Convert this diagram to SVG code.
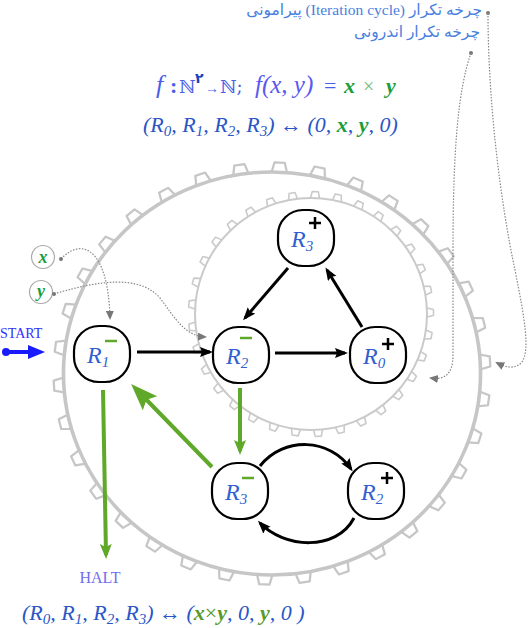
<svg xmlns="http://www.w3.org/2000/svg" xmlns:xlink="http://www.w3.org/1999/xlink" width="528" height="628" viewBox="0 0 528 628">
<style>
.gearO{fill:none;stroke:#c6c6c6;stroke-width:3.5}
.toothO{fill:none;stroke:#c6c6c6;stroke-width:2.2;stroke-linejoin:round}
.gearI{fill:none;stroke:#cacaca;stroke-width:2}
.toothI{fill:none;stroke:#cacaca;stroke-width:1.6;stroke-linejoin:round}
.node{fill:#fff;stroke:#000;stroke-width:2.2}
.lbl{font-family:"Liberation Serif",serif;font-style:italic;font-size:24px;fill:#2f5fd0}
.sub{font-size:15px}
.minus{stroke:#5fa82a;stroke-width:2.5}
.plus{stroke:#000;stroke-width:2.5;fill:none}
.blk{fill:none;stroke:#000;stroke-width:3}
.grn{fill:none;stroke:#5fa82a;stroke-width:4}
.dot{fill:none;stroke:#888;stroke-width:1.2;stroke-dasharray:1.5 1.5}
.math{font-family:"Liberation Serif","DejaVu Serif",serif;font-size:22px;fill:#2a56c6}
.it{font-style:italic}
.gx{fill:#1a9e3a;font-weight:bold;font-style:italic}
.fa{font-family:"Liberation Serif","DejaVu Sans",sans-serif;font-size:15.5px;fill:#4a7fe0}
</style>
<defs>
<path id="tO" class="toothO" d="M-7.5,-201 L-5,-211 L5,-211 L7.5,-201"/>
<path id="tI" class="toothI" d="M-4.5,-116 L-3,-122.5 L3,-122.5 L4.5,-116"/>
<marker id="aB" markerUnits="userSpaceOnUse" markerWidth="14" markerHeight="12" refX="10" refY="5" orient="auto"><path d="M0,0 L13,5 L0,10 L2,5 z" fill="#000"/></marker>
<marker id="aG" markerUnits="userSpaceOnUse" markerWidth="16" markerHeight="14" refX="11" refY="6" orient="auto"><path d="M0,0 L15,6 L0,12 L3,6 z" fill="#5fa82a"/></marker>
<marker id="aGB" markerUnits="userSpaceOnUse" markerWidth="28" markerHeight="22" refX="20" refY="10" orient="auto"><path d="M0,0 L27,10 L0,20 L5,10 z" fill="#5fa82a"/></marker>
<marker id="aD" markerUnits="userSpaceOnUse" markerWidth="10" markerHeight="10" refX="7" refY="4" orient="auto"><path d="M0,0 L9,4 L0,8 z" fill="#777"/></marker>
<marker id="aS" markerUnits="userSpaceOnUse" markerWidth="18" markerHeight="16" refX="10" refY="7" orient="auto"><path d="M0,0 L17,7 L0,14 z" fill="#1a1aff"/></marker>
</defs>

<g id="outer-gear" transform="translate(272,373.5) scale(1.035,1)">
<circle class="gearO" r="201.5"/>
<use xlink:href="#tO" transform="rotate(2)"/><use xlink:href="#tO" transform="rotate(12.59)"/><use xlink:href="#tO" transform="rotate(23.18)"/><use xlink:href="#tO" transform="rotate(33.76)"/><use xlink:href="#tO" transform="rotate(44.35)"/><use xlink:href="#tO" transform="rotate(54.94)"/><use xlink:href="#tO" transform="rotate(65.53)"/><use xlink:href="#tO" transform="rotate(76.12)"/><use xlink:href="#tO" transform="rotate(86.71)"/><use xlink:href="#tO" transform="rotate(97.29)"/><use xlink:href="#tO" transform="rotate(107.88)"/><use xlink:href="#tO" transform="rotate(118.47)"/><use xlink:href="#tO" transform="rotate(129.06)"/><use xlink:href="#tO" transform="rotate(139.65)"/><use xlink:href="#tO" transform="rotate(150.24)"/><use xlink:href="#tO" transform="rotate(160.82)"/><use xlink:href="#tO" transform="rotate(171.41)"/><use xlink:href="#tO" transform="rotate(182)"/><use xlink:href="#tO" transform="rotate(192.59)"/><use xlink:href="#tO" transform="rotate(203.18)"/><use xlink:href="#tO" transform="rotate(213.76)"/><use xlink:href="#tO" transform="rotate(224.35)"/><use xlink:href="#tO" transform="rotate(234.94)"/><use xlink:href="#tO" transform="rotate(245.53)"/><use xlink:href="#tO" transform="rotate(256.12)"/><use xlink:href="#tO" transform="rotate(266.71)"/><use xlink:href="#tO" transform="rotate(277.29)"/><use xlink:href="#tO" transform="rotate(287.88)"/><use xlink:href="#tO" transform="rotate(298.47)"/><use xlink:href="#tO" transform="rotate(309.06)"/><use xlink:href="#tO" transform="rotate(319.65)"/><use xlink:href="#tO" transform="rotate(330.24)"/><use xlink:href="#tO" transform="rotate(340.82)"/><use xlink:href="#tO" transform="rotate(351.41)"/>
</g>

<g id="inner-gear" transform="translate(311,314)">
<circle class="gearI" r="116"/>
<use xlink:href="#tI" transform="rotate(2)"/><use xlink:href="#tI" transform="rotate(12.91)"/><use xlink:href="#tI" transform="rotate(23.82)"/><use xlink:href="#tI" transform="rotate(34.73)"/><use xlink:href="#tI" transform="rotate(45.64)"/><use xlink:href="#tI" transform="rotate(56.55)"/><use xlink:href="#tI" transform="rotate(67.45)"/><use xlink:href="#tI" transform="rotate(78.36)"/><use xlink:href="#tI" transform="rotate(89.27)"/><use xlink:href="#tI" transform="rotate(100.18)"/><use xlink:href="#tI" transform="rotate(111.09)"/><use xlink:href="#tI" transform="rotate(122)"/><use xlink:href="#tI" transform="rotate(132.91)"/><use xlink:href="#tI" transform="rotate(143.82)"/><use xlink:href="#tI" transform="rotate(154.73)"/><use xlink:href="#tI" transform="rotate(165.64)"/><use xlink:href="#tI" transform="rotate(176.55)"/><use xlink:href="#tI" transform="rotate(187.45)"/><use xlink:href="#tI" transform="rotate(198.36)"/><use xlink:href="#tI" transform="rotate(209.27)"/><use xlink:href="#tI" transform="rotate(220.18)"/><use xlink:href="#tI" transform="rotate(231.09)"/><use xlink:href="#tI" transform="rotate(242)"/><use xlink:href="#tI" transform="rotate(252.91)"/><use xlink:href="#tI" transform="rotate(263.82)"/><use xlink:href="#tI" transform="rotate(274.73)"/><use xlink:href="#tI" transform="rotate(285.64)"/><use xlink:href="#tI" transform="rotate(296.55)"/><use xlink:href="#tI" transform="rotate(307.45)"/><use xlink:href="#tI" transform="rotate(318.36)"/><use xlink:href="#tI" transform="rotate(329.27)"/><use xlink:href="#tI" transform="rotate(340.18)"/><use xlink:href="#tI" transform="rotate(351.09)"/>
</g>

<g id="titles">
<text class="fa" x="482" y="15" direction="rtl" text-anchor="start">چرخه تکرار (Iteration cycle) پیرامونی</text>
<text class="fa" x="480" y="37" direction="rtl" text-anchor="start">چرخه تکرار اندرونی</text>
<circle cx="488" cy="13" r="2" fill="#777"/>
<circle cx="471" cy="53" r="2" fill="#777"/>
<text class="math" y="93"><tspan class="it" x="156" font-size="26" fill="#4a5ee8">f</tspan><tspan x="170" font-weight="bold" fill="#4a5ee8">:</tspan><tspan x="179" font-size="18" fill="#4a5ee8" font-family="DejaVu Serif,serif">ℕ</tspan><tspan x="195" y="83" font-size="14" font-weight="bold" fill="#1a3fc0" font-family="DejaVu Sans,sans-serif">۲</tspan><tspan x="205" y="93" font-size="14" fill="#4a5ee8">→</tspan><tspan x="220" font-size="18" fill="#4a5ee8" font-family="DejaVu Serif,serif">ℕ;</tspan><tspan class="it" x="255" font-size="25" fill="#5a5af0">f(x, y)</tspan><tspan x="324" fill="#4a5ee8">=</tspan><tspan class="gx" x="344">x</tspan><tspan x="363" fill="#77bb77" font-size="20">×</tspan><tspan class="gx" x="386">y</tspan></text>
<text class="math it" x="143" y="132">(R<tspan class="sub" dy="4">0</tspan><tspan dy="-4">, R</tspan><tspan class="sub" dy="4">1</tspan><tspan dy="-4">, R</tspan><tspan class="sub" dy="4">2</tspan><tspan dy="-4">, R</tspan><tspan class="sub" dy="4">3</tspan><tspan dy="-4">) </tspan><tspan font-style="normal">↔</tspan> (0, <tspan class="gx">x</tspan>, <tspan class="gx">y</tspan>, 0)</text>
<text class="math it" x="22" y="620">(R<tspan class="sub" dy="4">0</tspan><tspan dy="-4">, R</tspan><tspan class="sub" dy="4">1</tspan><tspan dy="-4">, R</tspan><tspan class="sub" dy="4">2</tspan><tspan dy="-4">, R</tspan><tspan class="sub" dy="4">3</tspan><tspan dy="-4">) </tspan><tspan font-style="normal">↔</tspan> (<tspan fill="#5a9a2a" font-weight="bold">x</tspan><tspan fill="#5a9a2a" font-style="normal">×</tspan><tspan fill="#5a9a2a" font-weight="bold">y</tspan>, 0, <tspan fill="#5a9a2a" font-weight="bold">y</tspan>, 0 )</text>
</g>

<g id="connectors">
<path class="dot" d="M488,13 C488,100 500,200 515,270 C525,320 530,350 522,362 C515,370 505,367 497,363" marker-end="url(#aD)"/>
<path class="dot" d="M471,53 C458,90 453,150 453,250 L453,355 C453,375 444,380 431,378" marker-end="url(#aD)"/>
<path class="dot" d="M61,259 C80,238 108,245 110,318" marker-end="url(#aD)"/>
<path class="dot" d="M54,294 C100,280 140,275 160,298 C175,318 185,336 205,337" marker-end="url(#aD)"/>
<path d="M6,352 L38,352" stroke="#1a1aff" stroke-width="4" marker-end="url(#aS)"/>
<circle cx="6" cy="352" r="4" fill="#1a1aff"/>
<path class="blk" d="M137,352 L210,352" marker-end="url(#aB)"/>
<path class="blk" d="M275,353 L345,353" marker-end="url(#aB)"/>
<path class="blk" d="M362,327 L327,270" marker-end="url(#aB)"/>
<path class="blk" d="M288,268 L245,318" marker-end="url(#aB)"/>
<path class="blk" d="M260,466 C284,436 330,438 351,469" marker-end="url(#aB)"/>
<path class="blk" d="M354,518 C336,552 284,548 260,523" marker-end="url(#aB)"/>
<path class="grn" d="M240,388 L240,451" marker-end="url(#aG)"/>
<path class="grn" d="M212,467 L136,389" marker-end="url(#aGB)"/>
<path class="grn" d="M103,390 L106,555" marker-end="url(#aG)"/>
</g>

<g id="inputs">
<g id="in-x"><circle cx="43" cy="257" r="11.5" fill="#fff" stroke="#aaa" stroke-width="1.2"/><text x="43" y="263" text-anchor="middle" font-family="Liberation Serif,serif" font-size="18" class="gx">x</text><circle cx="61" cy="259" r="2" fill="#777"/></g>
<g id="in-y"><circle cx="41" cy="292" r="11.5" fill="#fff" stroke="#aaa" stroke-width="1.2"/><text x="41" y="297" text-anchor="middle" font-family="Liberation Serif,serif" font-size="18" class="gx">y</text><circle cx="54" cy="294" r="2" fill="#777"/></g>
</g>

<g id="start"><text x="0" y="338" font-family="Liberation Serif,serif" font-size="14" fill="#3030ff">START</text></g>
<g id="halt"><text x="100" y="583" text-anchor="middle" font-family="Liberation Serif,serif" font-size="16" fill="#6f6ff0">HALT</text></g>

<g id="R1"><rect class="node" x="74" y="326" width="56" height="56" rx="25"/><text class="lbl" x="87" y="363">R<tspan class="sub" dy="4">1</tspan></text><line class="minus" x1="105" y1="341" x2="117" y2="341"/></g>
<g id="R2"><rect class="node" x="213" y="327" width="56" height="56" rx="25"/><text class="lbl" x="226" y="364">R<tspan class="sub" dy="4">2</tspan></text><line class="minus" x1="240" y1="338" x2="252" y2="338"/></g>
<g id="R0"><rect class="node" x="350" y="327" width="56" height="56" rx="25"/><text class="lbl" x="363" y="364">R<tspan class="sub" dy="4">0</tspan></text><path class="plus" d="M382,344 h12 M388,338 v12"/></g>
<g id="R3top"><rect class="node" x="278" y="210" width="56" height="56" rx="25"/><text class="lbl" x="291" y="247">R<tspan class="sub" dy="4">3</tspan></text><path class="plus" d="M309,223 h12 M315,217 v12"/></g>
<g id="R3low"><rect class="node" x="212" y="463" width="56" height="56" rx="25"/><text class="lbl" x="225" y="500">R<tspan class="sub" dy="4">3</tspan></text><line class="minus" x1="242" y1="478" x2="254" y2="478"/></g>
<g id="R2low"><rect class="node" x="348" y="463" width="56" height="56" rx="25"/><text class="lbl" x="361" y="500">R<tspan class="sub" dy="4">2</tspan></text><path class="plus" d="M381,478 h12 M387,472 v12"/></g>
</svg>
